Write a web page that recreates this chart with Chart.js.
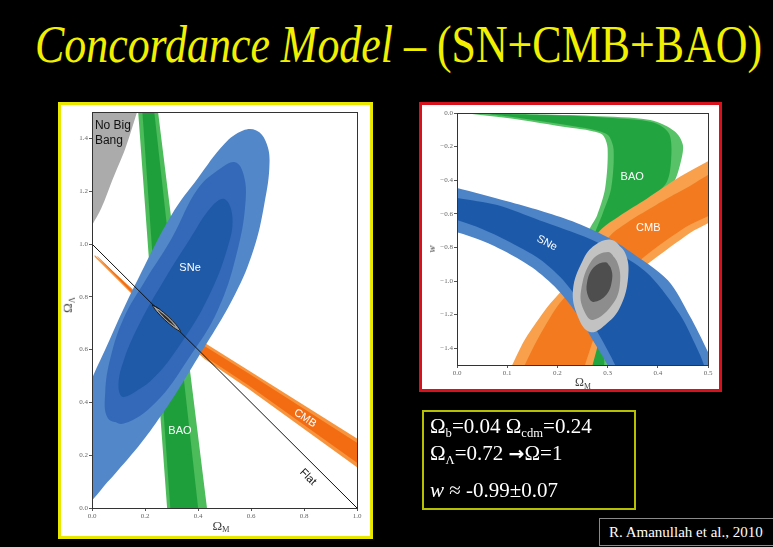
<!DOCTYPE html>
<html>
<head>
<meta charset="utf-8">
<script src="https://cdn.jsdelivr.net/npm/chart.js@4.4.1/dist/chart.umd.min.js"></script>
<style>
  html, body { margin: 0; padding: 0; background: #000; width: 773px; height: 547px; overflow: hidden; }
  .abs { position: absolute; }
  .serif { font-family: 'Liberation Serif', 'Times New Roman', serif; }
  #title { left: 35px; top: 19px; font-size: 52px; line-height: 52px; color: #f0f000; white-space: nowrap; transform-origin: 0 0; }
  #leftBox { left: 58px; top: 102px; width: 309px; height: 431px; background: #fff; border: 3px solid #e8e800; }
  #rightBox { left: 419px; top: 102px; width: 297px; height: 284px; background: #fff; border: 3px solid #d8121c; }
  canvas { position: absolute; left: 0; top: 0; display: block; }
  .axt { color: #444; white-space: nowrap; transform: translate(-50%, -50%); }
  .axt sub { font-size: 0.65em; vertical-align: -0.3em; }
  #params { left: 422px; top: 410px; width: 210px; height: 96px; border: 2px solid #b4c000; }
  .pl { color: #fff; font-size: 21px; line-height: 21px; white-space: nowrap; left: 430px; }
  .pl sub { font-size: 0.6em; vertical-align: -0.3em; line-height: 0; }
  .arrow { font-family: 'DejaVu Sans', sans-serif; font-weight: bold; font-size: 0.9em; }
  #cite { left: 599px; top: 518px; width: 180px; height: 26px; border: 1px solid #8a8a8a; color: #fff; font-size: 15px; line-height: 26px; padding-left: 9px; white-space: nowrap; }
</style>
</head>
<body>
<div id="title" class="abs serif"><i>Concordance Model</i> – (SN+CMB+BAO)</div>

<div id="leftBox" class="abs"><canvas id="leftCanvas" width="309" height="431"></canvas></div>
<div id="rightBox" class="abs"><canvas id="rightCanvas" width="297" height="284"></canvas></div>

<div class="abs axt serif" style="left:68px;top:305px;font-size:13px;transform:translate(-50%,-50%) rotate(-90deg);">Ω<sub>Λ</sub></div>
<div class="abs axt serif" style="left:221px;top:526px;font-size:13px;">Ω<sub>M</sub></div>
<div class="abs axt serif" style="left:431px;top:249px;font-size:11px;transform:translate(-50%,-50%) rotate(-90deg);"><i>w</i></div>
<div class="abs axt serif" style="left:583px;top:383px;font-size:12px;">Ω<sub>M</sub></div>

<div id="params" class="abs"></div>
<div class="abs pl serif" style="top:416px;">Ω<sub>b</sub>=0.04 Ω<sub>cdm</sub>=0.24</div>
<div class="abs pl serif" style="top:443px;">Ω<sub>Λ</sub>=0.72 <span class="arrow">→</span>Ω=1</div>
<div class="abs pl serif" style="top:480px;"><i>w</i> ≈ -0.99±0.07</div>

<div id="cite" class="abs serif">R. Amanullah et al., 2010</div>

<script>
// ---- left panel: Omega_M vs Omega_Lambda (contour outlines) ----
const leftXTicks = [0, 0.2, 0.4, 0.6, 0.8, 1.0];
const leftYTicks = [0, 0.2, 0.4, 0.6, 0.8, 1.0, 1.2, 1.4];

const noBigBang = [[-0.02, 1.6], [0.20, 1.6], [0.17, 1.5], [0.125, 1.36], [0.08, 1.25], [0.035, 1.135], [0.0, 1.07], [-0.02, 1.03]];
const baoOuterL = [[0.167, 1.6], [0.237, 1.6], [0.440, -0.05], [0.287, -0.05]];
const baoInnerL = [[0.183, 1.6], [0.224, 1.6], [0.406, -0.05], [0.299, -0.05]];
const cmbOuterL = [[0.01, 0.958], [0.155, 0.828], [0.426, 0.625], [0.59, 0.522], [1.05, 0.232],
                   [1.05, 0.118], [0.59, 0.452], [0.426, 0.563], [0.155, 0.806], [0.01, 0.952]];
const cmbInnerL = [[0.02, 0.955], [0.155, 0.822], [0.426, 0.613], [0.59, 0.51], [1.05, 0.215],
                   [1.05, 0.136], [0.59, 0.465], [0.426, 0.574], [0.155, 0.811], [0.02, 0.953]];
const snOuterL = [[-0.06, -0.02], [0.087, 0.13], [0.24, 0.32], [0.40, 0.57], [0.54, 0.81], [0.61, 0.98], [0.65, 1.15],
                  [0.67, 1.31], [0.655, 1.39], [0.62, 1.43], [0.57, 1.43], [0.50, 1.38], [0.40, 1.25], [0.30, 1.11],
                  [0.17, 0.86], [0.117, 0.75], [0.05, 0.60], [0.0, 0.49], [-0.06, 0.33], [-0.10, 0.16], [-0.10, 0.04]];
const snMidL = [[0.06, 0.34], [0.12, 0.32], [0.24, 0.40], [0.36, 0.56], [0.475, 0.75], [0.55, 0.98], [0.58, 1.17],
                [0.57, 1.27], [0.54, 1.31], [0.49, 1.29], [0.40, 1.21], [0.30, 1.02], [0.20, 0.86], [0.12, 0.72],
                [0.07, 0.57], [0.05, 0.44]];
const snInnerL = [[0.12, 0.42], [0.22, 0.48], [0.34, 0.63], [0.44, 0.80], [0.51, 0.98], [0.53, 1.10], [0.50, 1.17],
                  [0.45, 1.14], [0.37, 1.02], [0.27, 0.86], [0.18, 0.70], [0.12, 0.56], [0.10, 0.46]];
const flatLine = [[0, 1], [1, 0]];
const jointOuterL = [[0.228, 0.769], [0.254, 0.754], [0.287, 0.726], [0.318, 0.694], [0.334, 0.669],
                     [0.308, 0.684], [0.275, 0.712], [0.244, 0.744]];
const jointInnerL = [[0.248, 0.750], [0.284, 0.722], [0.314, 0.688], [0.278, 0.716]];

// ---- right panel: Omega_M vs w ----
const rightXTicks = [0, 0.1, 0.2, 0.3, 0.4, 0.5];
const rightYTicks = [0, -0.2, -0.4, -0.6, -0.8, -1.0, -1.2, -1.4];

const baoOuterR = [[0.02, -0.002], [0.15, -0.008], [0.27, -0.018], [0.385, -0.042], [0.434, -0.11], [0.45, -0.19],
                   [0.445, -0.30], [0.43, -0.42], [0.395, -0.50], [0.34, -0.62], [0.30, -0.75], [0.288, -0.95],
                   [0.29, -1.2], [0.30, -1.56], [0.262, -1.56], [0.26, -1.2], [0.257, -0.95], [0.262, -0.71],
                   [0.279, -0.61], [0.295, -0.45], [0.30, -0.21], [0.29, -0.13], [0.265, -0.105], [0.23, -0.09],
                   [0.10, -0.03], [0.03, -0.006]];
const baoInnerR = [[0.06, -0.004], [0.18, -0.012], [0.30, -0.028], [0.39, -0.055], [0.422, -0.12], [0.427, -0.25],
                   [0.418, -0.41], [0.38, -0.52], [0.33, -0.64], [0.295, -0.78], [0.288, -1.0], [0.292, -1.56],
                   [0.27, -1.56], [0.268, -1.0], [0.272, -0.75], [0.29, -0.60], [0.307, -0.45], [0.312, -0.22],
                   [0.302, -0.135], [0.28, -0.105], [0.23, -0.078], [0.10, -0.02]];
const cmbOuterR = [[0.10, -1.56], [0.11, -1.5], [0.135, -1.35], [0.18, -1.155], [0.21, -1.05], [0.25, -0.86],
                   [0.285, -0.70], [0.325, -0.61], [0.378, -0.51], [0.444, -0.38], [0.504, -0.28], [0.53, -0.24],
                   [0.53, -0.58], [0.464, -0.714], [0.39, -0.875], [0.34, -1.0], [0.30, -1.2], [0.27, -1.5], [0.265, -1.56]];
const cmbInnerR = [[0.125, -1.56], [0.135, -1.5], [0.16, -1.35], [0.20, -1.15], [0.235, -1.03], [0.27, -0.87],
                   [0.305, -0.73], [0.345, -0.64], [0.395, -0.55], [0.455, -0.45], [0.53, -0.34],
                   [0.53, -0.55], [0.455, -0.68], [0.38, -0.84], [0.33, -0.98], [0.29, -1.2], [0.255, -1.5], [0.25, -1.56]];
const snOuterR = [[-0.03, -0.43], [0, -0.446], [0.10, -0.525], [0.165, -0.58], [0.23, -0.645], [0.30, -0.74],
                  [0.34, -0.815], [0.42, -0.995], [0.464, -1.21], [0.498, -1.41], [0.51, -1.5], [0.515, -1.56],
                  [0.31, -1.56], [0.30, -1.5], [0.27, -1.35], [0.24, -1.2], [0.20, -1.05], [0.15, -0.92],
                  [0.10, -0.83], [0.05, -0.76], [0, -0.71], [-0.03, -0.69]];
const snInnerR = [[-0.03, -0.49], [0, -0.506], [0.08, -0.548], [0.165, -0.64], [0.265, -0.75], [0.33, -0.85],
                  [0.385, -0.97], [0.444, -1.20], [0.478, -1.40], [0.492, -1.5], [0.495, -1.56],
                  [0.32, -1.56], [0.315, -1.5], [0.285, -1.33], [0.25, -1.15], [0.21, -0.99], [0.165, -0.87],
                  [0.10, -0.76], [0.05, -0.69], [0, -0.637], [-0.03, -0.62]];
const jointOuterR = [[0.309, -0.756], [0.335, -0.833], [0.341, -0.976], [0.325, -1.155], [0.295, -1.262],
                     [0.265, -1.304], [0.241, -1.214], [0.231, -1.054], [0.251, -0.875], [0.275, -0.786]];
const jointMidR = [[0.301, -0.827], [0.318, -0.88], [0.325, -1.0], [0.312, -1.13], [0.271, -1.232],
                   [0.252, -1.17], [0.247, -1.06], [0.268, -0.88]];
const jointInnerR = [[0.296, -0.888], [0.306, -0.92], [0.309, -0.99], [0.298, -1.08], [0.272, -1.125],
                     [0.261, -1.09], [0.259, -1.01], [0.272, -0.92]];

// region outline -> closed, filled scatter dataset
function region(points, color, tension, extra) {
    const pts = points.map(([x, y]) => ({x, y}));
    return Object.assign({
        data: [...pts, pts[0], pts[1]],
        showLine: true,
        fill: 'shape',
        backgroundColor: color,
        borderColor: 'rgba(0,0,0,0)',
        borderWidth: 0,
        pointRadius: 0,
        tension: tension,
        capBezierPoints: false,
    }, extra || {});
}

// bottom layer first; later datasets get a lower order so they paint on top
function stack(list) {
    return list.map((ds, i) => Object.assign(ds, {order: list.length - i}));
}

const frame = {
    id: 'frame',
    afterDraw(chart) {
        const {ctx, chartArea: a} = chart;
        ctx.save();
        ctx.strokeStyle = '#333';
        ctx.lineWidth = 1;
        ctx.strokeRect(Math.round(a.left) + 0.5, Math.round(a.top) + 0.5, Math.round(a.width), Math.round(a.height));
        ctx.restore();
    }
};

const textLayer = {
    id: 'textLayer',
    afterDatasetsDraw(chart, args, opts) {
        const {ctx, scales: {x, y}} = chart;
        (opts.items || []).forEach(t => {
            ctx.save();
            ctx.translate(x.getPixelForValue(t.x), y.getPixelForValue(t.y));
            ctx.rotate((t.rot || 0) * Math.PI / 180);
            ctx.font = t.font || '11px "Liberation Sans", Arial, sans-serif';
            ctx.fillStyle = t.color || '#fff';
            ctx.textAlign = t.align || 'center';
            ctx.textBaseline = 'middle';
            ctx.fillText(t.text, 0, 0);
            ctx.restore();
        });
    }
};

function axes(xMin, xMax, xTicks, yMin, yMax, yTicks, yWidth, xHeight, fmt) {
    const tickFont = {family: "'Liberation Serif', 'Times New Roman', serif", size: 7};
    const common = {
        type: 'linear',
        grid: {drawOnChartArea: false, drawTicks: true, tickLength: 3, color: '#555'},
        border: {display: true, color: '#333'},
    };
    return {
        x: Object.assign({}, common, {
            min: xMin, max: xMax,
            afterBuildTicks: s => { s.ticks = xTicks.map(v => ({value: v})); },
            afterFit: s => { s.height = xHeight; },
            ticks: {font: tickFont, color: '#666', padding: 1, maxRotation: 0, callback: v => fmt(v)},
        }),
        y: Object.assign({}, common, {
            min: yMin, max: yMax,
            afterBuildTicks: s => { s.ticks = yTicks.map(v => ({value: v})); },
            afterFit: s => { s.width = yWidth; },
            ticks: {font: tickFont, color: '#666', padding: 1, callback: v => fmt(v)},
        }),
    };
}

const fmt = v => (Math.abs(v) < 1e-9 ? '0.0' : (v < 0 ? '\u2212' + (-v).toFixed(1) : v.toFixed(1)));

new Chart(document.getElementById('leftCanvas'), {
    type: 'scatter',
    data: {
        datasets: stack([
            region(noBigBang, '#ababab', 0.3),
            region(baoOuterL, '#4cbb5a', 0),
            region(baoInnerL, '#1f9f3c', 0),
            region(cmbOuterL, '#f7953f', 0),
            region(cmbInnerL, '#f36c12', 0),
            region(snOuterL, '#5287c9', 0.4),
            region(snMidL, '#3369b8', 0.4),
            region(snInnerL, '#1f5aa9', 0.4),
            {data: flatLine.map(([x, y]) => ({x, y})), showLine: true, borderColor: '#111', borderWidth: 1,
             pointRadius: 0, fill: false},
            region(jointOuterL, '#a4a4a4', 0.3, {borderColor: '#1a1a1a', borderWidth: 1}),
            region(jointInnerL, '#2e2a26', 0.3),
        ]),
    },
    options: {
        responsive: false,
        animation: false,
        layout: {padding: {left: 0, top: 7, right: 13, bottom: 0}},
        scales: axes(0, 1, leftXTicks, 0, 1.5, leftYTicks, 31, 28, fmt),
        plugins: {
            legend: {display: false},
            tooltip: {enabled: false},
            textLayer: {items: [
                {text: 'No Big', x: 0.011, y: 1.449, align: 'left', color: '#111', font: '12px "Liberation Sans", Arial, sans-serif'},
                {text: 'Bang', x: 0.011, y: 1.392, align: 'left', color: '#111', font: '12px "Liberation Sans", Arial, sans-serif'},
                {text: 'SNe', x: 0.37, y: 0.91},
                {text: 'BAO', x: 0.332, y: 0.29},
                {text: 'CMB', x: 0.804, y: 0.34, rot: 34},
                {text: 'Flat', x: 0.815, y: 0.117, rot: 45, color: '#111'},
            ]},
        },
    },
    plugins: [frame, textLayer],
});

new Chart(document.getElementById('rightCanvas'), {
    type: 'scatter',
    data: {
        datasets: stack([
            region(baoOuterR, '#58c268', 0.3),
            region(baoInnerR, '#22a540', 0.3),
            region(cmbOuterR, '#f8a04c', 0.3),
            region(cmbInnerR, '#f37a1e', 0.3),
            region(snOuterR, '#4d83c7', 0.3),
            region(snInnerR, '#1c59a8', 0.3),
            region(jointOuterR, '#c2c2c2', 0.4),
            region(jointMidR, '#8d8d8d', 0.4),
            region(jointInnerR, '#4e4e4e', 0.4),
        ]),
    },
    options: {
        responsive: false,
        animation: false,
        layout: {padding: {left: 0, top: 8, right: 11, bottom: 0}},
        scales: axes(0, 0.5, rightXTicks, -1.5, 0, rightYTicks, 35, 24, fmt),
        plugins: {
            legend: {display: false},
            tooltip: {enabled: false},
            textLayer: {items: [
                {text: 'BAO', x: 0.349, y: -0.38},
                {text: 'CMB', x: 0.381, y: -0.685},
                {text: 'SNe', x: 0.179, y: -0.774, rot: 28},
            ]},
        },
    },
    plugins: [frame, textLayer],
});

// the slide title is set in a condensed face; squeeze it to the slide width
const title = document.getElementById('title');
title.style.transform = 'scaleX(' + (727 / title.getBoundingClientRect().width) + ')';
</script>
</body>
</html>
